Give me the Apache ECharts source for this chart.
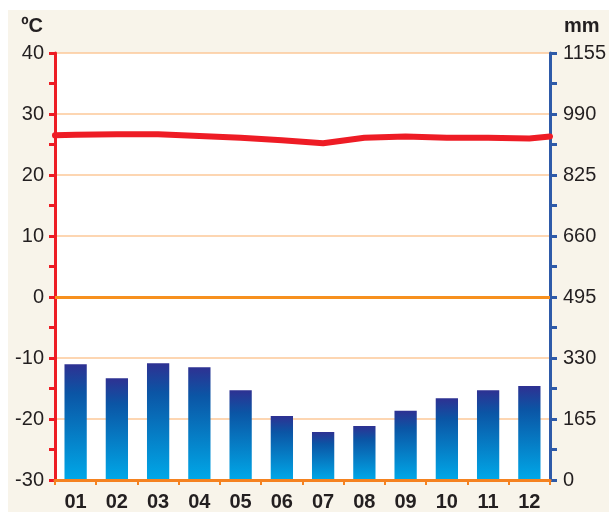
<!DOCTYPE html>
<html>
<head>
<meta charset="utf-8">
<script src="https://cdn.jsdelivr.net/npm/echarts@6/dist/echarts.min.js"></script>
<style>html,body{margin:0;padding:0;background:#fff}#c{width:609px;height:512px}</style>
</head>
<body>
<div id="c"></div>
<script>
const months = ['01','02','03','04','05','06','07','08','09','10','11','12'];
const precipitation = [313, 275, 316, 305, 243, 173, 130, 146, 187, 221, 243, 254];
const temperature = [26.6, 26.7, 26.7, 26.4, 26.1, 25.7, 25.2, 26.1, 26.3, 26.1, 26.1, 26.0];
const tempEdges = [26.5, 26.3]; // line value at left and right plot edges
const tempTicks = {min: -30, max: 40, interval: 10};
const precTicks = {min: 0, max: 1155, interval: 165};

const lineData = [[0, tempEdges[0]]]
  .concat(temperature.map((v, i) => [i + 0.5, v]))
  .concat([[months.length, tempEdges[1]]]);

const font = '"Liberation Sans", Arial, sans-serif';
const chart = echarts.init(document.getElementById('c'), null, {renderer: 'canvas'});
chart.setOption({
  backgroundColor: '#ffffff',
  animation: false,
  graphic: [{
    type: 'rect', z: -10, silent: true,
    shape: {x: 8, y: 10, width: 601, height: 502},
    style: {fill: '#f8f4ea'}
  }],
  grid: {left: 55, right: 57, top: 53, bottom: 31, show: true, backgroundColor: '#ffffff', borderWidth: 0},
  xAxis: [{
    type: 'category', data: months, boundaryGap: true, position: 'bottom',
    axisLine: {show: true, onZero: false, lineStyle: {color: '#f58220', width: 3}},
    axisTick: {show: true, length: 5, lineStyle: {color: '#f58220', width: 2}},
    axisLabel: {color: '#231f20', fontFamily: font, fontWeight: 'bold', fontSize: 20, margin: 12},
    z: 5
  }, {
    type: 'value', min: 0, max: months.length, show: false
  }],
  yAxis: [{
    type: 'value', min: tempTicks.min, max: tempTicks.max, interval: tempTicks.interval,
    position: 'left',
    name: 'ºC', nameLocation: 'end', nameGap: 27,
    nameTextStyle: {color: '#231f20', fontFamily: font, fontWeight: 'bold', fontSize: 20, align: 'right', verticalAlign: 'middle', padding: [0, 12, 0, 0]},
    axisLine: {show: true, onZero: false, lineStyle: {color: '#ed1c24', width: 3}},
    axisTick: {show: true, length: 6, lineStyle: {color: '#ed1c24', width: 3}},
    minorTick: {show: true, splitNumber: 2, length: 6, lineStyle: {color: '#ed1c24', width: 3}},
    axisLabel: {color: '#231f20', fontFamily: font, fontSize: 20, margin: 11},
    splitLine: {show: true, lineStyle: {color: '#fdc899', width: 1.5}},
    z: 0
  }, {
    type: 'value', min: precTicks.min, max: precTicks.max, interval: precTicks.interval,
    position: 'right',
    name: 'mm', nameLocation: 'end', nameGap: 27,
    nameTextStyle: {color: '#231f20', fontFamily: font, fontWeight: 'bold', fontSize: 20, align: 'left', verticalAlign: 'middle', padding: [0, 0, 0, 14]},
    axisLine: {show: true, onZero: false, lineStyle: {color: '#2e5aa8', width: 3}},
    axisTick: {show: true, length: 7, lineStyle: {color: '#2e5aa8', width: 3}},
    minorTick: {show: true, splitNumber: 2, length: 7, lineStyle: {color: '#2e5aa8', width: 3}},
    axisLabel: {color: '#231f20', fontFamily: font, fontSize: 20, margin: 13, formatter: v => String(v)},
    splitLine: {show: false},
    z: 0
  }],
  series: [{
    type: 'bar', xAxisIndex: 0, yAxisIndex: 1, data: precipitation,
    barWidth: '54%',
    itemStyle: {
      color: new echarts.graphic.LinearGradient(0, 0, 0, 1, [
        {offset: 0, color: '#2e3192'},
        {offset: 0.25, color: '#0b55a5'},
        {offset: 1, color: '#00a8e8'}
      ])
    },
    z: 2
  }, {
    type: 'line', xAxisIndex: 1, yAxisIndex: 0, data: lineData,
    symbol: 'none', smooth: false,
    lineStyle: {color: '#ee1c25', width: 6, cap: 'round', join: 'round'},
    markLine: {
      silent: true, symbol: 'none', label: {show: false},
      lineStyle: {color: '#f7901e', width: 3, type: 'solid'},
      data: [{yAxis: 0}]
    },
    z: 3
  }]
});
</script>
</body>
</html>
